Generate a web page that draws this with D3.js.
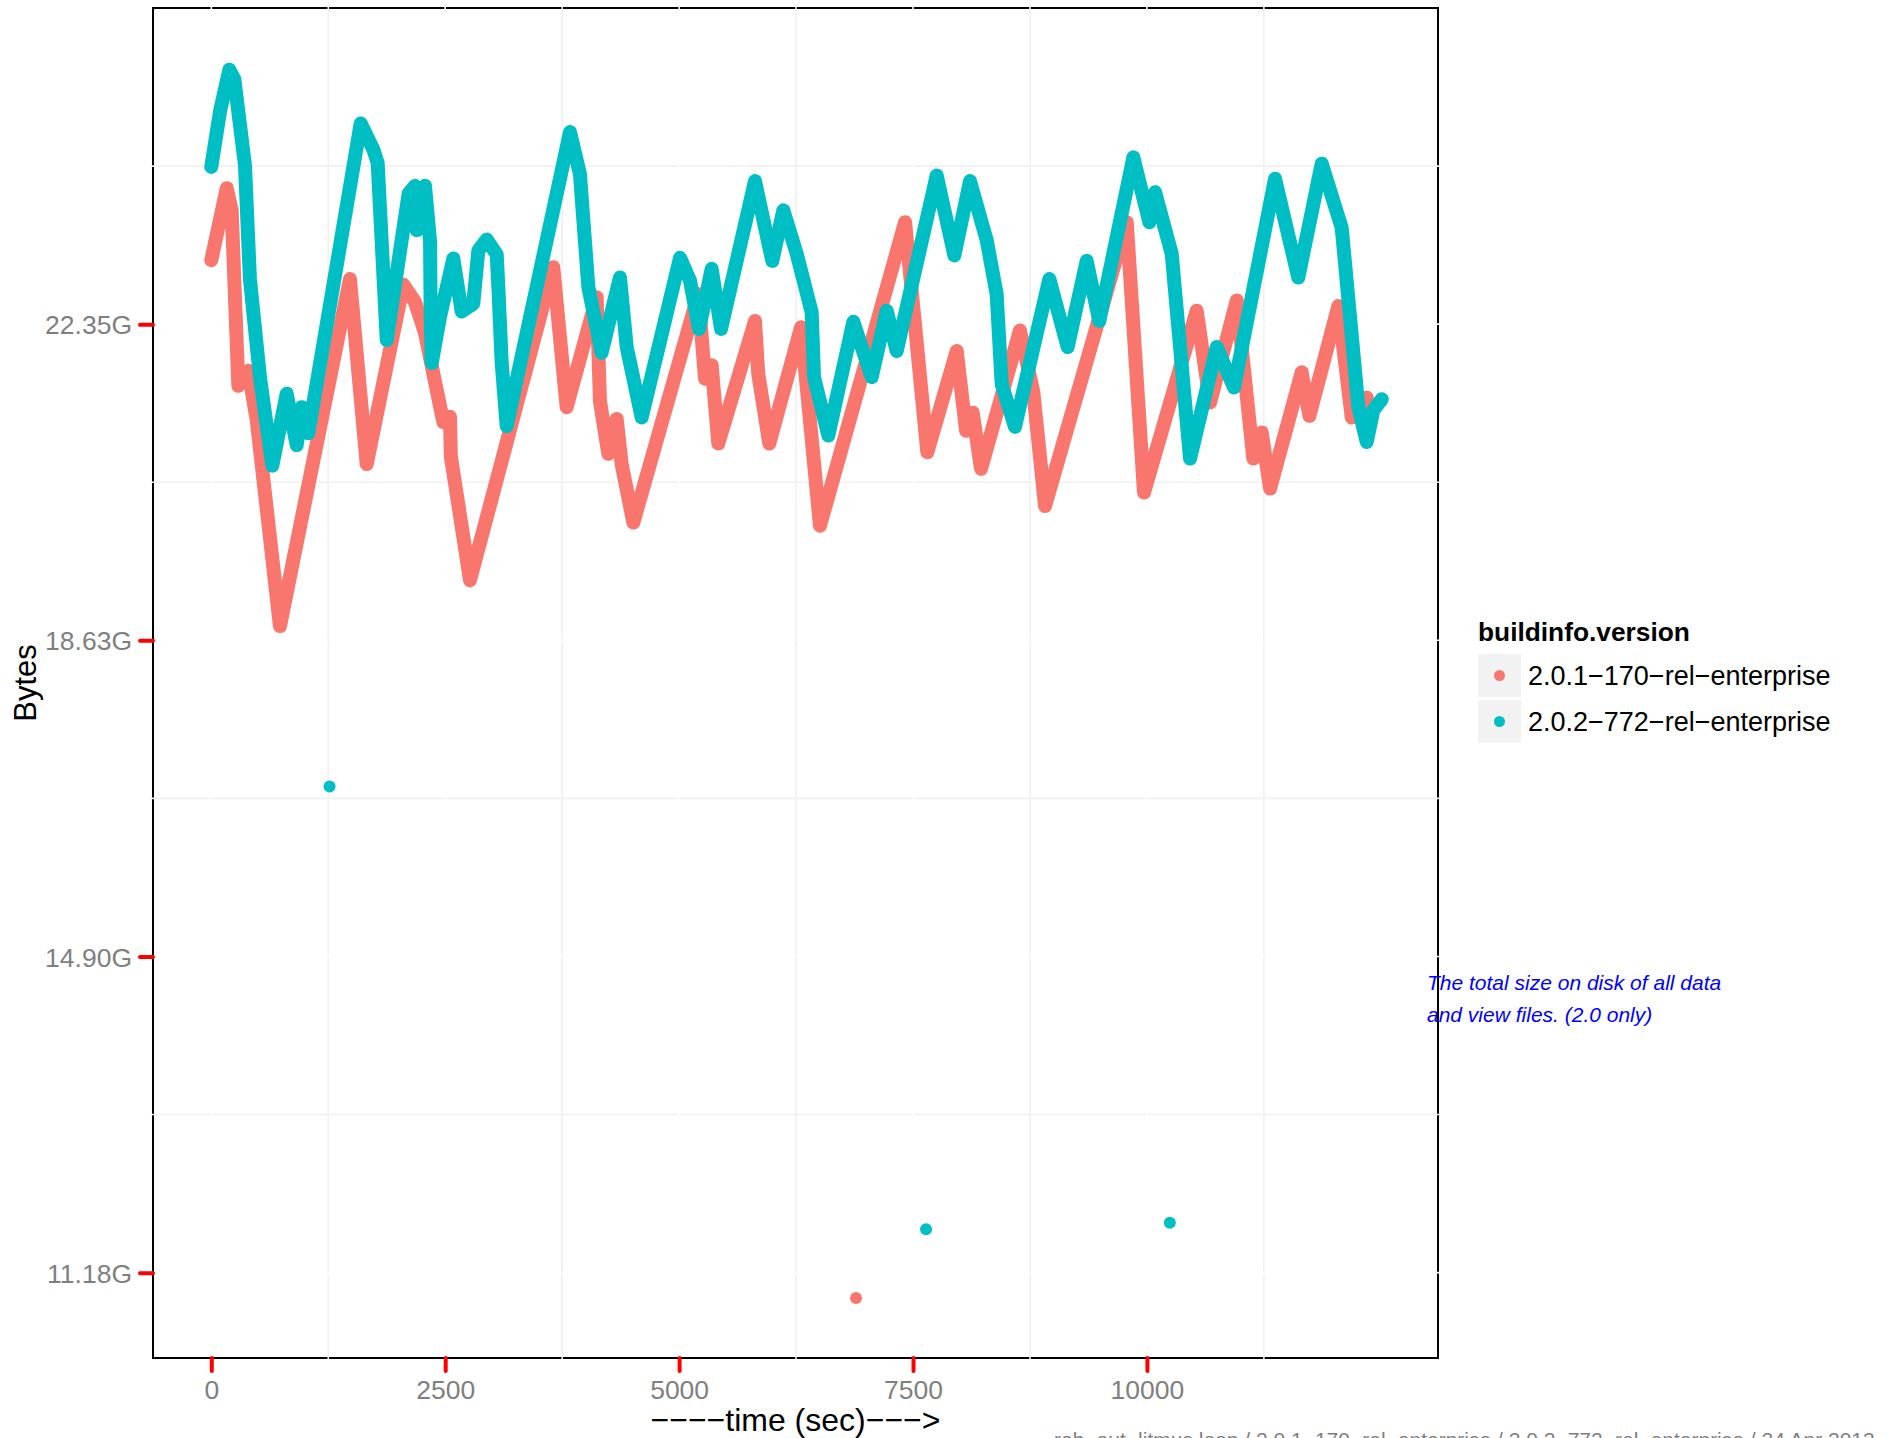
<!DOCTYPE html>
<html>
<head>
<meta charset="utf-8">
<script src="https://cdn.jsdelivr.net/npm/d3@7"></script>
<style>
  body { margin: 0; background: #ffffff; }
  svg text { font-family: "Liberation Sans", Arial, sans-serif; }
</style>
</head>
<body>
<div id="container"></div>
<script>
// series names
var versions = ["2.0.1\u2212170\u2212rel\u2212enterprise", "2.0.2\u2212772\u2212rel\u2212enterprise"];
var colors = ["#F8766D", "#00BFC4"];

// 2.0.1 build: time (sec) and size (GB, 1e9 bytes)
var redTime = [0, 165, 218, 289, 396, 485, 734, 1482, 1661, 2052, 2177, 2284, 2391, 2480, 2551, 2560,
    2765, 3655, 3798, 4119, 4154, 4243, 4333, 4386, 4511, 5205, 5277, 5348, 5419, 5811, 5846, 5964,
    6303, 6506, 7415, 7653, 7967, 8067, 8138, 8227, 8643, 8786, 8911, 9784, 9969, 10532, 10675,
    10960, 11137, 11227, 11316, 11654, 11736, 12046, 12189, 12349];
var redSize = [24.81, 25.72, 25.44, 23.22, 23.41, 22.79, 20.18, 24.57, 22.23, 24.50, 24.28, 23.89, 23.27, 22.76, 22.83, 22.33,
    20.76, 24.72, 22.95, 24.34, 23.03, 22.36, 22.80, 22.23, 21.49, 24.38, 23.31, 23.48, 22.49, 24.04, 23.37, 22.49,
    23.96, 21.45, 25.29, 22.38, 23.66, 22.65, 22.88, 22.17, 23.92, 23.14, 21.70, 25.29, 21.87, 24.17, 23.01,
    24.30, 22.30, 22.63, 21.92, 23.39, 22.84, 24.23, 22.82, 23.07];

// 2.0.2 build
var cyanTime = [0, 93, 193, 246, 360, 413, 521, 652, 806, 913, 966, 1037, 1597, 1732, 1778, 1875,
    2109, 2177, 2195, 2284, 2338, 2345, 2356, 2444, 2587, 2676, 2800, 2854, 2944, 3051, 3068, 3104, 3157,
    3834, 3940, 4030, 4172, 4368, 4440, 4600, 5010, 5117, 5213, 5348, 5448, 5811, 5996, 6114, 6257,
    6417, 6442, 6595, 6862, 7058, 7219, 7326, 7753, 7942, 8109, 8288, 8394, 8448, 8590, 8957, 9153,
    9356, 9491, 9855, 10026, 10087, 10265, 10461, 10746, 10931, 11369, 11618, 11868, 12082, 12260,
    12349, 12420, 12510];
var cyanSize = [25.99, 26.69, 27.22, 27.10, 26.01, 24.57, 23.32, 22.21, 23.12, 22.47, 22.95, 22.62, 26.54, 26.21, 26.04, 23.80,
    25.65, 25.75, 25.19, 25.75, 25.05, 24.09, 23.51, 24.09, 24.83, 24.16, 24.26, 24.93, 25.07, 24.88, 24.47, 23.51, 22.71,
    26.43, 25.90, 24.47, 23.64, 24.59, 23.71, 22.82, 24.84, 24.55, 23.94, 24.70, 23.94, 25.81, 24.80, 25.44, 24.89,
    24.15, 23.33, 22.59, 24.03, 23.33, 24.17, 23.66, 25.88, 24.87, 25.81, 25.06, 24.38, 23.24, 22.70, 24.57, 23.71,
    24.80, 24.04, 26.11, 25.29, 25.67, 24.89, 22.30, 23.71, 23.20, 25.84, 24.59, 26.03, 25.22, 22.95,
    22.51, 22.91, 23.05];

// stray single samples
var strayTime = [1264, 6891, 7639, 10245];
var straySize = [18.15, 11.68, 12.55, 12.63];
var straySeries = [1, 0, 1, 1];

// axis ticks (GB) and time ticks
var yTicks = [12, 16, 20, 24];
var yMinor = [14, 18, 22, 26];
var xTicks = [0, 2500, 5000, 7500, 10000];
var xMinor = [1250, 3750, 6250, 8750, 11250];

// canvas and panel
var canvasX = 1893;
var canvasY = 1438;
var panelLeft = 153;
var panelRight = 1438;
var panelTop = 8;
var panelBottom = 1358;

var svg = d3.select("#container")
            .append("svg")
            .attr("width", canvasX)
            .attr("height", canvasY);

var x = d3.scaleLinear().domain([-623, 13111]).range([panelLeft, panelRight]);
var y = d3.scaleLinear().domain([10.92, 28.0]).range([panelBottom, panelTop]);

// panel border
svg.append("rect")
   .attr("x", panelLeft)
   .attr("y", panelTop)
   .attr("width", panelRight - panelLeft)
   .attr("height", panelBottom - panelTop)
   .attr("fill", "#ffffff")
   .attr("stroke", "#000000")
   .attr("stroke-width", 2);

// minor grid (light grey) then major grid (white)
var grid = svg.append("g");
function gridLines(xs, ys, color) {
    grid.selectAll(null).data(xs).enter().append("line")
        .attr("x1", function(d) { return x(d); })
        .attr("x2", function(d) { return x(d); })
        .attr("y1", panelTop - 2).attr("y2", panelBottom + 2)
        .attr("stroke", color).attr("stroke-width", 1.6);
    grid.selectAll(null).data(ys).enter().append("line")
        .attr("y1", function(d) { return y(d); })
        .attr("y2", function(d) { return y(d); })
        .attr("x1", panelLeft - 2).attr("x2", panelRight + 2)
        .attr("stroke", color).attr("stroke-width", 1.6);
}
gridLines(xMinor, yMinor, "#f0f0f0");
gridLines(xTicks, yTicks, "#ffffff");

// data as thick lines of dense points
var line = d3.line()
             .x(function(d) { return x(d[0]); })
             .y(function(d) { return y(d[1]); });

var series = [d3.zip(redTime, redSize), d3.zip(cyanTime, cyanSize)];
svg.append("g")
   .selectAll("path")
   .data(series)
   .enter()
   .append("path")
   .attr("d", line)
   .attr("fill", "none")
   .attr("stroke", function(d, i) { return colors[i]; })
   .attr("stroke-width", 14)
   .attr("stroke-linejoin", "round")
   .attr("stroke-linecap", "round");

svg.append("g")
   .selectAll("circle")
   .data(strayTime)
   .enter()
   .append("circle")
   .attr("cx", function(d) { return x(d); })
   .attr("cy", function(d, i) { return y(straySize[i]); })
   .attr("r", 6)
   .attr("fill", function(d, i) { return colors[straySeries[i]]; });

// axes
function fmtBytes(d) {
    return (d * 1e9 / Math.pow(2, 30)).toFixed(2) + "G";
}

var yAxis = svg.append("g")
   .attr("transform", "translate(" + panelLeft + ",0)")
   .call(d3.axisLeft(y).tickValues(yTicks).tickFormat(fmtBytes).tickSize(13).tickPadding(8));

var xAxis = svg.append("g")
   .attr("transform", "translate(0," + panelBottom + ")")
   .call(d3.axisBottom(x).tickValues(xTicks).tickFormat(d3.format("d")).tickSize(13).tickPadding(9));

[yAxis, xAxis].forEach(function(ax) {
    ax.select(".domain").remove();
    ax.selectAll(".tick line")
      .attr("stroke", "#ff0000")
      .attr("stroke-width", 4)
      .attr("stroke-linecap", "round");
    ax.selectAll(".tick text")
      .attr("fill", "#7f7f7f")
      .attr("font-size", 26.5)
      .attr("font-family", "Liberation Sans, Arial, sans-serif");
});
yAxis.selectAll(".tick text").attr("dy", "0.36em");

// axis titles
svg.append("text")
   .attr("x", (panelLeft + panelRight) / 2)
   .attr("y", 1431)
   .attr("text-anchor", "middle")
   .attr("font-size", 32)
   .text("\u2212\u2212\u2212\u2212time (sec)\u2212\u2212\u2212>");

svg.append("text")
   .attr("transform", "translate(36," + ((panelTop + panelBottom) / 2) + ") rotate(-90)")
   .attr("text-anchor", "middle")
   .attr("font-size", 31)
   .text("Bytes");

// legend
var legend = svg.append("g").attr("transform", "translate(1478,0)");
legend.append("text")
      .attr("x", 0)
      .attr("y", 641)
      .attr("font-size", 26.3)
      .attr("font-weight", "bold")
      .text("buildinfo.version");

var keys = legend.selectAll(".key")
                 .data(versions)
                 .enter()
                 .append("g")
                 .attr("transform", function(d, i) { return "translate(0," + (654 + i * 46) + ")"; });
keys.append("rect")
    .attr("width", 43)
    .attr("height", 43)
    .attr("fill", "#f2f2f2");
keys.append("circle")
    .attr("cx", 21.5)
    .attr("cy", 21.5)
    .attr("r", 5.5)
    .attr("fill", function(d, i) { return colors[i]; });
keys.append("text")
    .attr("x", 50)
    .attr("y", 31)
    .attr("font-size", 27)
    .text(function(d) { return d; });

// note
var note = svg.append("text")
              .attr("font-size", 21)
              .attr("font-style", "italic")
              .attr("fill", "#0000ff");
note.append("tspan").attr("x", 1427).attr("y", 990).text("The total size on disk of all data");
note.append("tspan").attr("x", 1427).attr("y", 1022).text("and view files. (2.0 only)");

// caption, partly cut off at the bottom edge as in the original
svg.append("text")
   .attr("x", 1054)
   .attr("y", 1447)
   .attr("font-size", 21)
   .attr("fill", "#7f7f7f")
   .text("reb\u2212out\u2212litmus loop / 2.0.1\u2212170\u2212rel\u2212enterprise / 2.0.2\u2212772\u2212rel\u2212enterprise / 24 Apr 2013");
</script>
</body>
</html>
